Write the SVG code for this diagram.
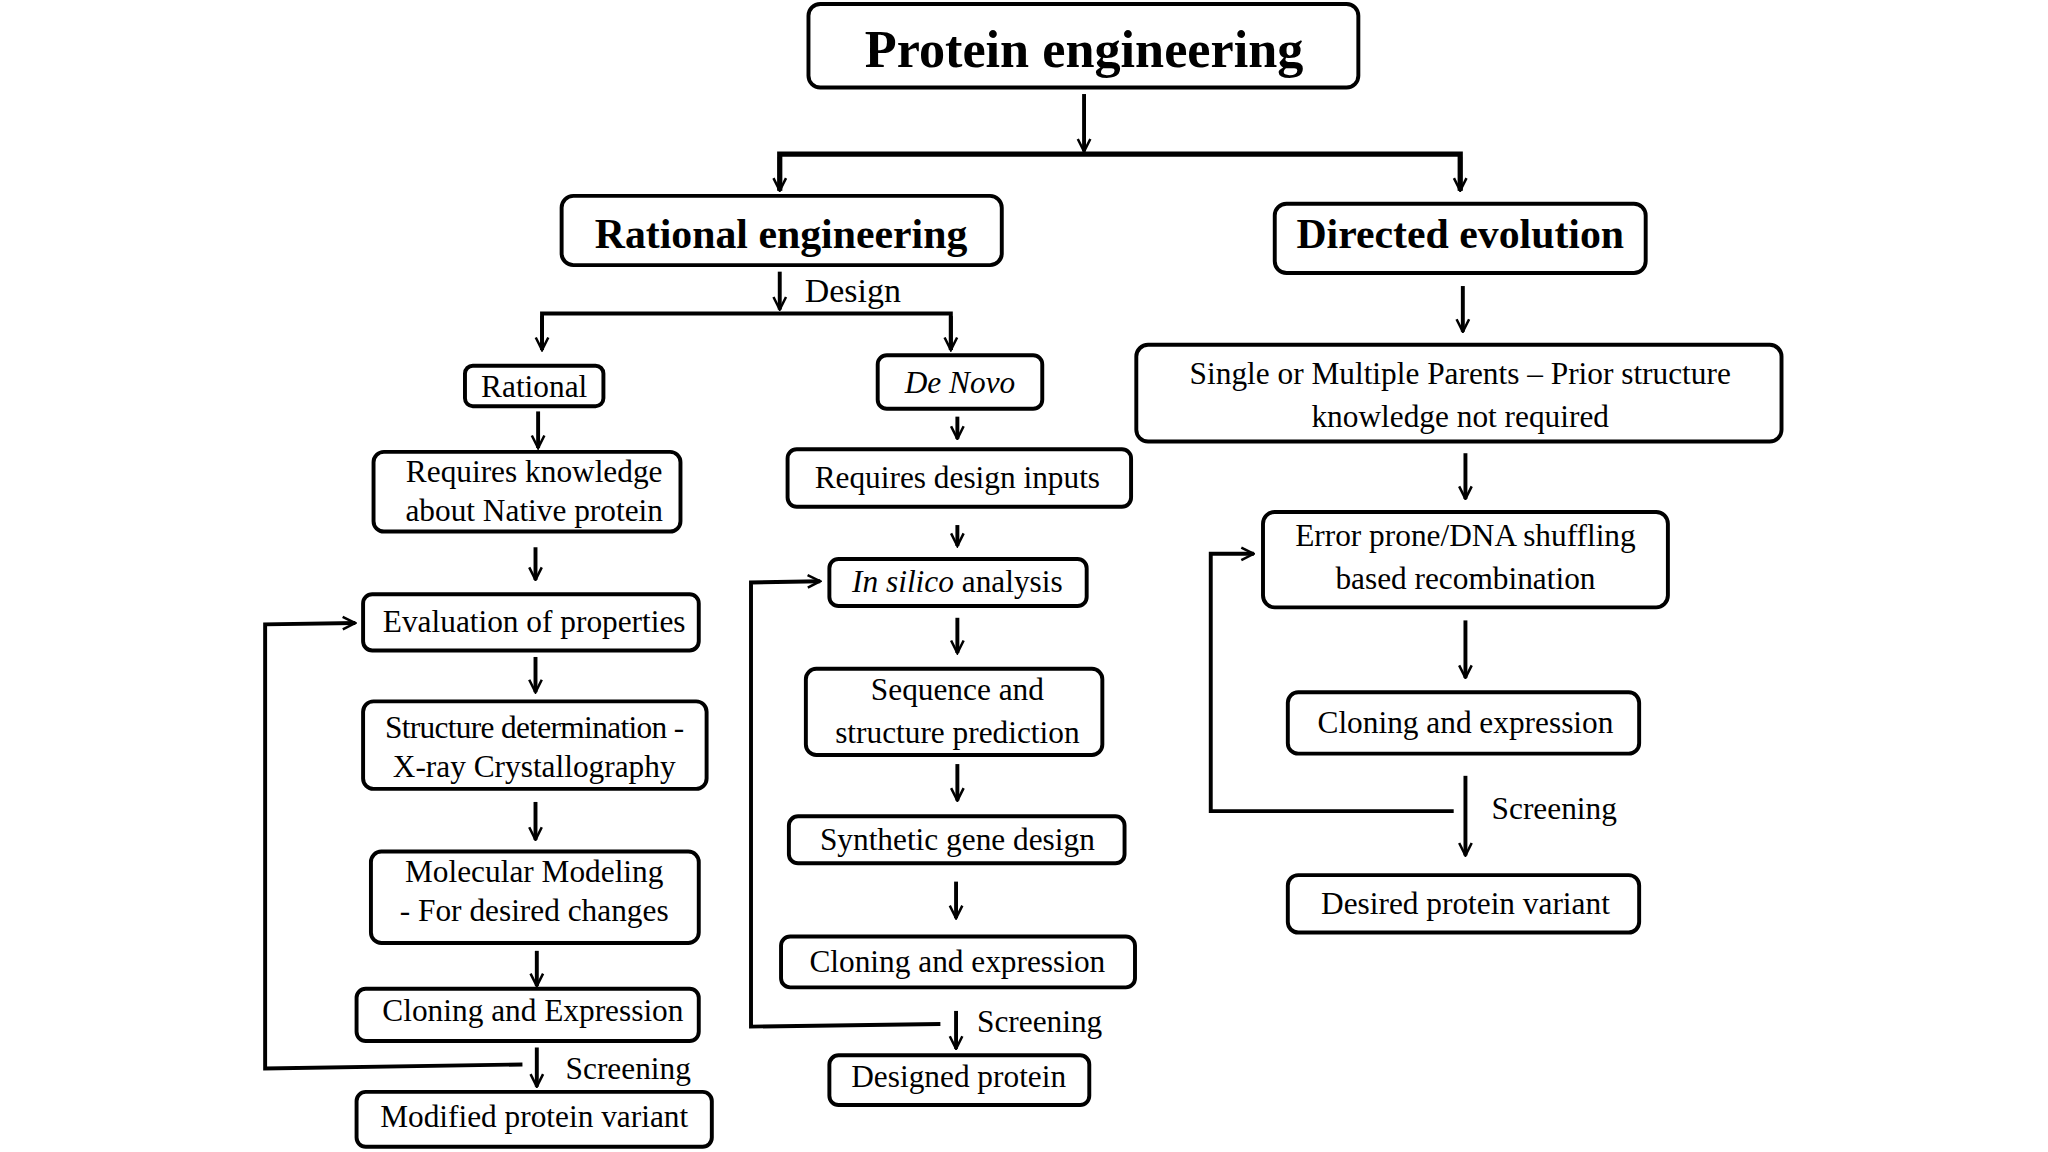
<svg xmlns="http://www.w3.org/2000/svg" width="2048" height="1152" viewBox="0 0 2048 1152">
<defs>
<marker id="ah" viewBox="0 0 10 10" refX="9" refY="5" markerWidth="4" markerHeight="4" orient="auto" markerUnits="strokeWidth"><path d="M1,1 L9,5 L1,9" fill="none" stroke="#000" stroke-width="1.6"/></marker>
</defs>
<style>
rect{fill:#fff;stroke:#000;stroke-width:3}
text{font-family:"Liberation Serif","Times New Roman",serif;font-size:24px;text-anchor:middle;fill:#000}
.b{font-weight:bold}
.c line,.c polyline{stroke:#000;stroke-width:3;fill:none}
.a{marker-end:url(#ah)}
</style>
<rect x="0" y="0" width="2048" height="1152" style="fill:#fff;stroke:none"/>
<g transform="scale(1.3061)">
<g class="c">
<line class="a" x1="830" y1="72" x2="830" y2="116"/>
<polyline points="597,146 597,118 1118,118 1118,146" style="stroke-width:4"/>
<line class="a" x1="597" y1="120" x2="597" y2="146"/>
<line class="a" x1="1118" y1="120" x2="1118" y2="146"/>
<line class="a" x1="597" y1="208" x2="597" y2="237"/>
<polyline points="415,268 415,240 728,240 728,268"/>
<line class="a" x1="415" y1="242" x2="415" y2="268"/>
<line class="a" x1="728" y1="242" x2="728" y2="268"/>
<line class="a" x1="412" y1="315" x2="412" y2="343"/>
<line class="a" x1="733" y1="319" x2="733" y2="336"/>
<line class="a" x1="410" y1="419" x2="410" y2="444"/>
<line class="a" x1="733" y1="402" x2="733" y2="418"/>
<line class="a" x1="410" y1="503" x2="410" y2="530"/>
<line class="a" x1="733" y1="473" x2="733" y2="500"/>
<line class="a" x1="410" y1="614" x2="410" y2="643"/>
<line class="a" x1="733" y1="585" x2="733" y2="613"/>
<line class="a" x1="411" y1="728" x2="411" y2="755"/>
<line class="a" x1="732" y1="675" x2="732" y2="703"/>
<line class="a" x1="411" y1="802" x2="411" y2="832"/>
<polyline class="a" points="400,815 203,818 203,478 272,477"/>
<line class="a" x1="732" y1="774" x2="732" y2="803"/>
<polyline class="a" points="720,784 575,786 575,446 628,445"/>
<line class="a" x1="1120" y1="219" x2="1120" y2="254"/>
<line class="a" x1="1122" y1="347" x2="1122" y2="382"/>
<line class="a" x1="1122" y1="475" x2="1122" y2="519"/>
<line class="a" x1="1122" y1="594" x2="1122" y2="655"/>
<polyline class="a" points="1113,621 927,621 927,424 960,424"/>
</g>
<g id="n-pe"><rect x="619" y="3" width="421" height="64" rx="9"/><text class="b" x="830" y="51" style="font-size:40px">Protein engineering</text></g>
<g id="n-re"><rect x="430" y="150" width="337" height="53" rx="9"/><text class="b" x="598" y="190" style="font-size:32px">Rational engineering</text></g>
<g id="n-de"><rect x="976" y="156" width="284" height="53" rx="9"/><text class="b" x="1118" y="190" style="font-size:32px">Directed evolution</text></g>
<text x="653" y="231" style="font-size:26px">Design</text>
<g id="n-rat"><rect x="356" y="280" width="106" height="31" rx="6"/><text x="409" y="304">Rational</text></g>
<g id="n-dn"><rect x="672" y="272" width="126" height="41" rx="7"/><text x="735" y="301" style="font-style:italic">De Novo</text></g>
<g id="n-rk"><rect x="286" y="346" width="235" height="61" rx="8"/><text x="409" y="369">Requires knowledge</text><text x="409" y="399">about Native protein</text></g>
<g id="n-rd"><rect x="603" y="344" width="263" height="44" rx="7"/><text x="733" y="374">Requires design inputs</text></g>
<g id="n-ev"><rect x="278" y="455" width="257" height="43" rx="7"/><text x="409" y="484">Evaluation of properties</text></g>
<g id="n-is"><rect x="635" y="428" width="197" height="36" rx="7"/><text x="733" y="453"><tspan style="font-style:italic">In silico</tspan> analysis</text></g>
<g id="n-sp"><rect x="617" y="512" width="227" height="66" rx="8"/><text x="733" y="536">Sequence and</text><text x="733" y="569">structure prediction</text></g>
<g id="n-sd"><rect x="278" y="537" width="263" height="67" rx="8"/><text x="409" y="565" style="letter-spacing:-0.5px">Structure determination -</text><text x="409" y="595">X-ray Crystallography</text></g>
<g id="n-sg"><rect x="604" y="625" width="257" height="36" rx="7"/><text x="733" y="651">Synthetic gene design</text></g>
<g id="n-mm"><rect x="284" y="652" width="251" height="70" rx="8"/><text x="409" y="675">Molecular Modeling</text><text x="409" y="705">- For desired changes</text></g>
<g id="n-ce2"><rect x="598" y="717" width="271" height="39" rx="7"/><text x="733" y="744">Cloning and expression</text></g>
<g id="n-ce1"><rect x="273" y="757" width="262" height="40" rx="7"/><text x="408" y="782">Cloning and Expression</text></g>
<text x="481" y="826">Screening</text>
<g id="n-mp"><rect x="273" y="836" width="272" height="42" rx="7"/><text x="409" y="863">Modified protein variant</text></g>
<text x="796" y="790">Screening</text>
<g id="n-dp"><rect x="635" y="808" width="199" height="38" rx="7"/><text x="734" y="832">Designed protein</text></g>
<g id="n-sm"><rect x="870" y="264" width="494" height="74" rx="9"/><text x="1118" y="294">Single or Multiple Parents – Prior structure</text><text x="1118" y="327">knowledge not required</text></g>
<g id="n-ep"><rect x="967" y="392" width="310" height="73" rx="9"/><text x="1122" y="418">Error prone/DNA shuffling</text><text x="1122" y="451">based recombination</text></g>
<g id="n-ce3"><rect x="986" y="530" width="269" height="47" rx="8"/><text x="1122" y="561">Cloning and expression</text></g>
<text x="1190" y="627">Screening</text>
<g id="n-dv"><rect x="986" y="670" width="269" height="44" rx="8"/><text x="1122" y="700">Desired protein variant</text></g>
</g>
</svg>
